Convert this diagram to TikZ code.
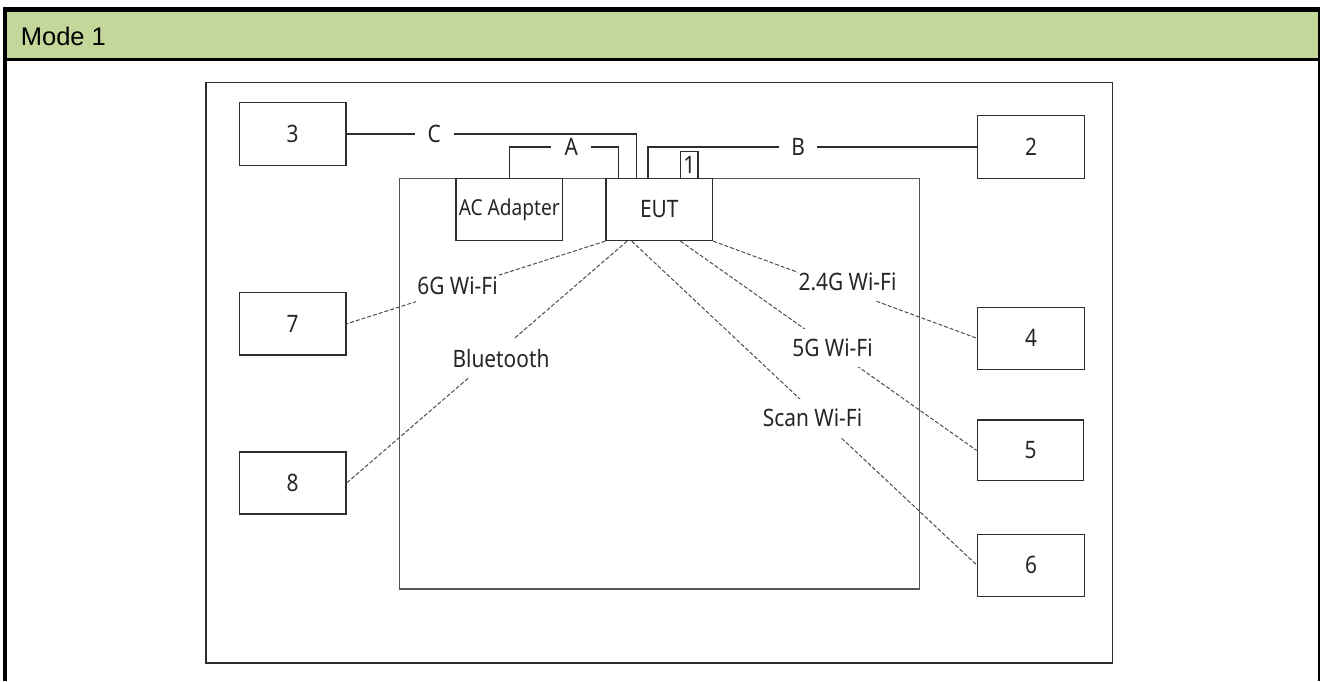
\documentclass[tikz,border=0pt]{standalone}
\usepackage{fontspec}
\setmainfont{Liberation Sans}
\newfontfamily\labfont[FakeStretch=0.87]{Noto Sans}
\usetikzlibrary{calc}
\definecolor{hdr}{RGB}{196,215,155}
\definecolor{ln}{RGB}{45,45,45}
\definecolor{inr}{RGB}{85,85,85}
\begin{document}
\begin{tikzpicture}[x=1pt,y=-1pt,
  box/.style={draw=ln, line width=1.3pt, minimum width=106.5pt, minimum height=62.5pt, inner sep=0pt, text=black!85, font=\labfont\fontsize{24}{28}\selectfont},
  lbl/.style={font=\labfont\fontsize{24}{28}\selectfont, inner sep=0pt, text=black!85},
  gaplbl/.style={lbl, fill=white, minimum height=38pt, inner xsep=1pt},
  wire/.style={draw=ln, line width=1.3pt},
  radio/.style={draw=ln!85, line width=1pt, dash pattern=on 4pt off 2pt},
]
\useasboundingbox (0,0) rectangle (1320,681);
% frame and header
\fill[hdr] (5,9) rectangle (1320,59.5);
\draw[line width=5pt] (3.3,9.2) -- (1322,9.2);
\draw[line width=4pt] (5.3,7) -- (5.3,681);
\draw[line width=4pt] (1319.6,7) -- (1319.6,681);
\draw[line width=2.4pt] (5,59.5) -- (1320,59.5);
\node[anchor=base west, inner sep=0pt, font=\fontsize{25.5}{30}\selectfont] (title) at (20.7,45) {Mode 1};
% outer and inner areas
\draw[draw=ln, line width=1.3pt] (206,82.7) rectangle (1112.3,663);
\draw[draw=inr, line width=1.5pt] (399.3,178.3) rectangle (919.5,589);
% boxes
\node[box] (b3) at (292.6,134) {3};
\node[box] (b2) at (1031,147) {2};
\node[box, minimum height=62pt] (b4) at (1031,338.3) {4};
\node[box, minimum height=60.7pt] (b5) at (1030.5,450.4) {5};
\node[box] (b6) at (1031,565.4) {6};
\node[box] (b7) at (292.7,323.8) {7};
\node[box, minimum height=62pt] (b8) at (292.7,483) {8};
\node[box, minimum height=62.4pt, font=\labfont\fontsize{22}{26}\selectfont] (ac) at (509.3,209.5) {AC Adapter};
\node[box, minimum height=62.2pt] (eut) at (659.3,209.4) {EUT};
\node[box, minimum width=17.3pt, minimum height=26.6pt] (one) at (689.3,165) {1};
% cable points on EUT
\coordinate (cA) at ($(eut.north west)+(13.3,0)$);
\coordinate (cC) at ($(eut.north west)+(31.3,0)$);
\coordinate (cB) at ($(eut.north west)+(42.7,0)$);
\coordinate (aTop) at ($(ac.north)+(0,-30.6)$);
% cables
\draw[wire] (b3.east) -| node[lbl, fill=white, pos=0.151, inner xsep=13pt, inner ysep=2pt] (lC) {C} (cC);
\draw[wire] (ac.north) -- (aTop) -| node[lbl, fill=white, pos=0.283, inner xsep=13.5pt, inner ysep=2pt] (lA) {A} (cA);
\draw[wire] (cB) |- node[lbl, fill=white, pos=0.728, inner xsep=12pt, inner ysep=2pt] (lB) {B} (b2.west);
% radio links
\coordinate (rBT) at ($(eut.south west)+(21.7,0)$);
\coordinate (rSc) at ($(eut.south west)+(26.3,0)$);
\coordinate (r5) at ($(eut.south west)+(75,0)$);
\draw[radio] (eut.south west) -- (b7.east);
\draw[radio] (rBT) -- (b8.east);
\draw[radio] (rSc) -- (b6.west);
\draw[radio] (r5) -- (b5.west);
\draw[radio] (eut.south east) -- (b4.west);
\node[gaplbl] (l6) at (457.5,286) {6G Wi-Fi};
\node[gaplbl] (lbt) at (501,358) {Bluetooth};
\node[gaplbl] (lsc) at (812.5,418) {Scan Wi-Fi};
\node[gaplbl] (l5) at (832.5,348) {5G Wi-Fi};
\node[gaplbl] (l24) at (847.5,282) {2.4G Wi-Fi};
\end{tikzpicture}
\end{document}
